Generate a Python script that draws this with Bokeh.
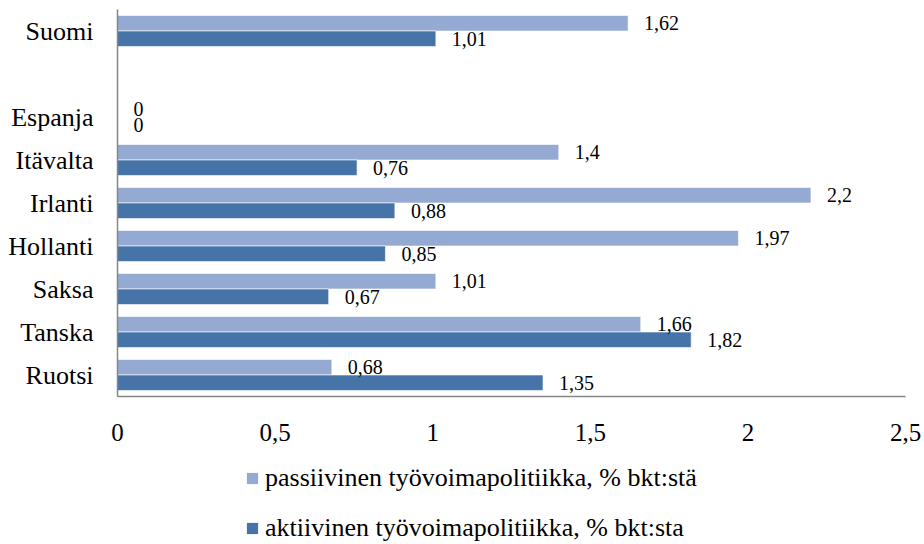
from bokeh.plotting import figure
from bokeh.layouts import column
from bokeh.models import (ColumnDataSource, FactorRange, Range1d, Legend, LegendItem,
                          FixedTicker, CustomJSTickFormatter)
from bokeh.transform import dodge
from bokeh.core.properties import value
from bokeh.embed import file_html
from bokeh.resources import INLINE

# Data (bottom to top)
countries = ["Ruotsi", "Tanska", "Saksa", "Hollanti", "Irlanti", "Itävalta", "Espanja", "Suomi"]
axis_factors = ["Ruotsi", "Tanska", "Saksa", "Hollanti", "Irlanti", "Itävalta", "Espanja", " ", "Suomi"]
passive = [0.68, 1.66, 1.01, 1.97, 2.2, 1.4, 0, 1.62]
active = [1.35, 1.82, 0.67, 0.85, 0.88, 0.76, 0, 1.01]
passive_label = "passiivinen työvoimapolitiikka, % bkt:stä"
active_label = "aktiivinen työvoimapolitiikka, % bkt:sta"
x_ticks = [0, 0.5, 1, 1.5, 2, 2.5]

PASSIVE_COLOR = "#95AAD3"
ACTIVE_COLOR = "#4673A8"
FONT = "Liberation Serif"

def fmt(v):
    return ("%g" % v).replace(".", ",")

src = ColumnDataSource(dict(
    cat=countries,
    passive=passive,
    active=active,
    plab=[fmt(v) for v in passive],
    alab=[fmt(v) for v in active],
))

p = figure(width=924, height=460, output_backend="svg", toolbar_location=None,
           y_range=FactorRange(*axis_factors, range_padding=0), x_range=Range1d(0, 2.5))
p.min_border_left = 117
p.min_border_right = 19
p.min_border_top = 9
p.min_border_bottom = 64
p.outline_line_color = None
p.xgrid.grid_line_color = None
p.ygrid.grid_line_color = None
p.background_fill_color = "white"
p.border_fill_color = "white"

bw = 0.36
p.hbar(y=dodge("cat", 0.18, range=p.y_range), right="passive", left=0, height=bw,
       source=src, fill_color=PASSIVE_COLOR, line_color="white", line_width=0.6)
p.hbar(y=dodge("cat", -0.18, range=p.y_range), right="active", left=0, height=bw,
       source=src, fill_color=ACTIVE_COLOR, line_color="white", line_width=0.6)

p.text(x="passive", y=dodge("cat", 0.18, range=p.y_range), text="plab", source=src,
       x_offset=16, text_align="left", text_baseline="middle",
       text_font=value(FONT), text_font_size="20px", text_color="black")
p.text(x="active", y=dodge("cat", -0.18, range=p.y_range), text="alab", source=src,
       x_offset=16, text_align="left", text_baseline="middle",
       text_font=value(FONT), text_font_size="20px", text_color="black")

# Axes
p.xaxis.ticker = FixedTicker(ticks=x_ticks)
p.xaxis.formatter = CustomJSTickFormatter(code="return String(tick).replace('.', ',');")
for ax in (p.xaxis[0], p.yaxis[0]):
    ax.axis_line_color = "#868686"
    ax.axis_line_width = 1.5
    ax.major_tick_line_color = None
    ax.minor_tick_line_color = None
    ax.major_label_text_font = FONT
    ax.major_label_text_color = "black"
p.xaxis.major_label_text_font_size = "25px"
p.yaxis.major_label_text_font_size = "26px"
p.xaxis.major_label_standoff = 21
p.yaxis.major_label_standoff = 18

# Legend in a separate strip below the chart
lg = figure(width=924, height=84, output_backend="svg", toolbar_location=None,
            x_range=Range1d(0, 1), y_range=Range1d(0, 1))
lg.min_border_left = 0
lg.min_border_right = 0
lg.min_border_top = 0
lg.min_border_bottom = 0
lg.axis.visible = False
lg.grid.visible = False
lg.outline_line_color = None
lg.border_fill_color = "white"
# off-screen proxy glyphs that only provide legend swatches
proxy = ColumnDataSource(dict(y=[-5], right=[-5]))
d_p = lg.hbar(y="y", right="right", left=-6, height=0.1, source=proxy,
              fill_color=PASSIVE_COLOR, line_color=None)
d_a = lg.hbar(y="y", right="right", left=-6, height=0.1, source=proxy,
              fill_color=ACTIVE_COLOR, line_color=None)

legend = Legend(items=[LegendItem(label=passive_label, renderers=[d_p]),
                       LegendItem(label=active_label, renderers=[d_a])],
                location=(128, 1), orientation="vertical",
                padding=0, margin=0, spacing=20,
                glyph_width=14, glyph_height=14, label_height=26, label_standoff=6,
                label_text_font=FONT, label_text_font_size="26px", label_text_color="black",
                border_line_color=None, background_fill_alpha=0)
lg.add_layout(legend)

layout = column(p, lg, spacing=0)
open("out.html", "w").write(file_html(layout, INLINE))
